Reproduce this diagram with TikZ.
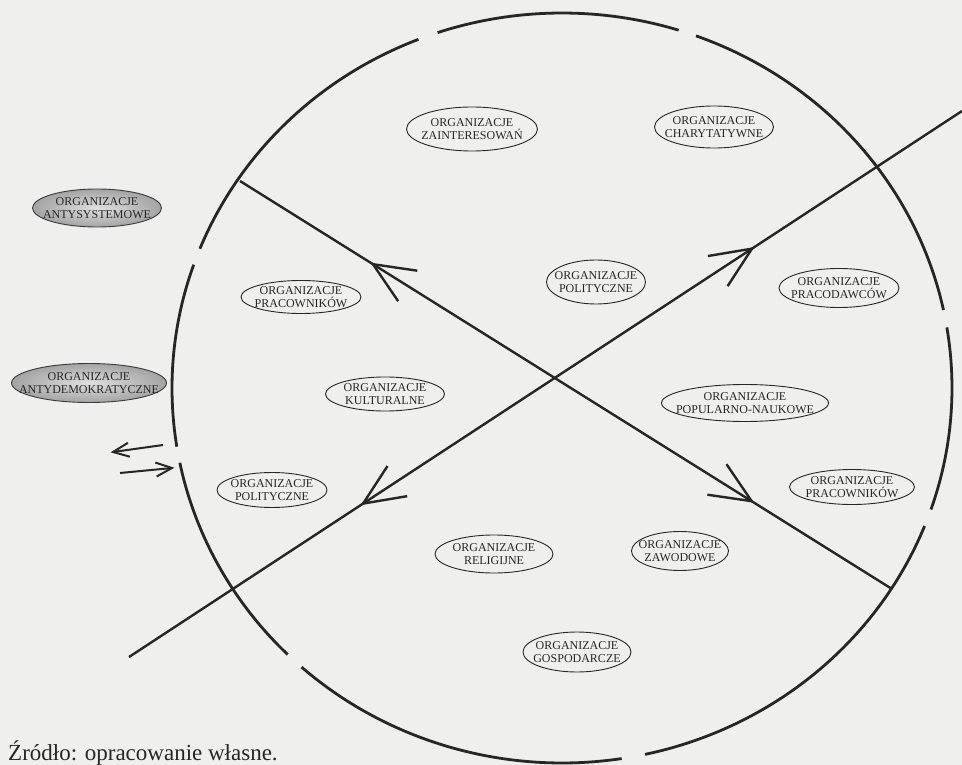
\documentclass[tikz,border=0pt]{standalone}
\usepackage{fontspec}
\setmainfont{Liberation Serif}
\usetikzlibrary{shapes.geometric,decorations.markings}
\definecolor{paper}{RGB}{239,239,237}
\definecolor{ink}{RGB}{38,38,38}
\tikzset{
  orgshape/.style={ellipse, draw=ink, line width=0.9pt, inner sep=0pt},
  orggray/.style={orgshape, draw=gray!45!black, inner color=gray!25, outer color=gray!72},
  orgtext/.style={inner sep=0pt, align=center, text=ink, font=\fontsize{12}{13}\selectfont},
  ring/.style={draw=ink, line width=2.8pt},
  axis/.style={draw=ink, line width=2.4pt},
  thinarrow/.style={draw=ink, line width=2pt},
}
\newcommand\orgbubble[7][orgshape]{%
  \node[#1, minimum width=#5pt, minimum height=#6pt] (#2) at (#3,-#4) {};
  \node[orgtext] (#2t) at (#2) {ORGANIZACJE\\#7};
}
\begin{document}
\begin{tikzpicture}[x=1pt,y=1pt]
\fill[paper] (0,0) rectangle (962,-765);
\useasboundingbox (0,0) rectangle (962,-765);
% broken circle
\coordinate (C) at (562,-388);
\foreach \a/\b in {72.6/108.6, 111.6/158.2, 160.8/189.0, 191.5/225.3, 228.1/278.8, 282.3/338.4, 341.1/369.3, 12.0/69.9} {
  \draw[ring] (C) ++(\a:390pt and 375pt) arc[start angle=\a, end angle=\b, x radius=390pt, y radius=375pt];
}
% axes
\coordinate (L1a) at (240,-181);
\coordinate (L1b) at (892,-589);
\coordinate (L2a) at (129,-657);
\coordinate (L2b) at (962,-111);
\draw[axis, postaction={decorate}, decoration={markings,
   mark=at position 0.204 with {\draw[axis, line join=miter] (41,18)--(0,0)--(41,-18);},
   mark=at position 0.785 with {\draw[axis, line join=miter] (-41,18)--(0,0)--(-41,-18);}}]
   (L1a) -- (L1b);
\draw[axis, postaction={decorate}, decoration={markings,
   mark=at position 0.281 with {\draw[axis, line join=miter] (41,18)--(0,0)--(41,-18);},
   mark=at position 0.748 with {\draw[axis, line join=miter] (-41,18)--(0,0)--(-41,-18);}}]
   (L2a) -- (L2b);
% small arrows at the left gap
\coordinate (A1s) at (163,-445);
\coordinate (A1e) at (113,-452);
\coordinate (A2s) at (120,-473);
\coordinate (A2e) at (172,-468);
\draw[thinarrow, postaction={decorate}, decoration={markings,
   mark=at position 0.999 with {\draw[thinarrow, line join=miter] (-16,7)--(0,0)--(-16,-7);}}]
   (A1s) -- (A1e);
\draw[thinarrow, postaction={decorate}, decoration={markings,
   mark=at position 0.999 with {\draw[thinarrow, line join=miter] (-16,7)--(0,0)--(-16,-7);}}]
   (A2s) -- (A2e);
% organisations
\orgbubble{e1}{472}{129}{131}{44}{ZAINTERESOWAŃ}
\orgbubble{e2}{714}{127}{119}{42}{CHARYTATYWNE}
\orgbubble[orggray]{e3}{97}{208}{129}{38}{ANTYSYSTEMOWE}
\orgbubble{e4}{596}{282}{99}{44}{POLITYCZNE}
\orgbubble{e5}{301}{297}{120}{33}{PRACOWNIKÓW}
\orgbubble{e6}{839}{288}{120}{39}{PRACODAWCÓW}
\orgbubble[orggray]{e7}{89}{383}{155}{39}{ANTYDEMOKRATYCZNE}
\orgbubble{e8}{385}{394}{119}{34}{KULTURALNE}
\orgbubble{e9}{745}{403}{167}{37}{POPULARNO-NAUKOWE}
\orgbubble{e10}{272}{490}{110}{35}{POLITYCZNE}
\orgbubble{e11}{852}{487}{125}{35}{PRACOWNIKÓW}
\orgbubble{e12}{494}{554}{118}{38}{RELIGIJNE}
\orgbubble{e13}{680}{551}{97}{39}{ZAWODOWE}
\orgbubble{e14}{577}{652}{108}{40}{GOSPODARCZE}
% source line
\node[anchor=base west, inner sep=0pt, text=ink, font=\fontsize{23}{26}\selectfont] (src) at (8,-760) {Źródło: opracowanie własne.};
\end{tikzpicture}
\end{document}
